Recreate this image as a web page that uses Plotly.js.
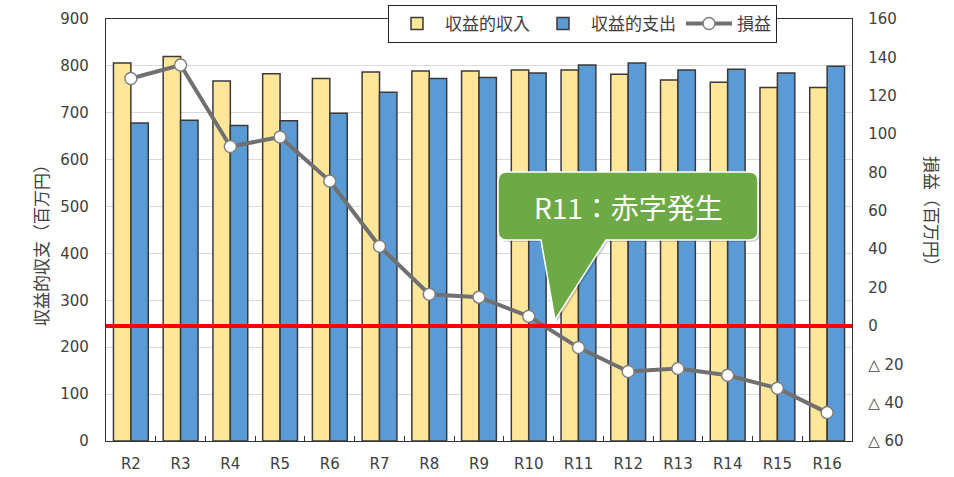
<!DOCTYPE html>
<html>
<head>
<meta charset="utf-8">
<script src="https://cdn.plot.ly/plotly-3.0.1.min.js"></script>
<style>html,body{margin:0;padding:0;background:#fff;}#chart{width:954px;height:477px;}</style>
</head>
<body>
<div id="chart"></div>
<script>
const categories = ["R2","R3","R4","R5","R6","R7","R8","R9","R10","R11","R12","R13","R14","R15","R16"];
const revenue = [806, 820, 768, 783, 773, 787, 789, 789, 791, 791, 782, 770, 765, 754, 754];
const expense = [678, 684, 673, 683, 699, 744, 773, 775, 785, 802, 806, 791, 793, 785, 799];
const profit  = [129, 136, 93.5, 98.5, 75.5, 41.5, 16.5, 15, 5, -11.3, -23.8, -22.2, -25.7, -32.5, -45.2];
const leftTicks = [0,100,200,300,400,500,600,700,800,900];
const rightTicks = [-60,-40,-20,0,20,40,60,80,100,120,140,160];
const rightTickText = rightTicks.map(v => v < 0 ? "△ " + (-v) : String(v));
const seriesNames = ["収益的収入","収益的支出","損益"];
const calloutText = "R11：赤字発生";

const W = 954, H = 477, L = 106, R = 102, T = 19, B = 36;
const pw = W - L - R, ph = H - T - B;
const px = x => (x - L) / pw;
const py = y => (H - B - y) / ph;

const tickFont = {family: "DejaVu Sans, Noto Sans, sans-serif", size: 15, color: "#404040"};
const cjk = "Noto Sans CJK JP, sans-serif";

const traces = [
  {type: "bar", name: seriesNames[0], x: categories, y: revenue, yaxis: "y",
   marker: {color: "#FFE699", line: {color: "#3a3a3a", width: 1.5}}},
  {type: "bar", name: seriesNames[1], x: categories, y: expense, yaxis: "y",
   marker: {color: "#5B9BD5", line: {color: "#3a3a3a", width: 1.5}}},
  {type: "scatter", mode: "lines+markers", name: seriesNames[2], x: categories, y: profit, yaxis: "y2",
   line: {color: "#707070", width: 4},
   marker: {symbol: "circle", size: 12, color: "#ffffff", line: {color: "#808080", width: 1.5}}}
];

function rr(x0, y0, x1, y1, r, bx0, bx1, tipx, tipy) {
  const P = (x, y) => px(x).toFixed(5) + "," + py(y).toFixed(5);
  return "M" + P(x0 + r, y0) + " L" + P(x1 - r, y0) + " Q" + P(x1, y0) + " " + P(x1, y0 + r) +
    " L" + P(x1, y1 - r) + " Q" + P(x1, y1) + " " + P(x1 - r, y1) +
    " L" + P(bx1, y1) + " L" + P(tipx, tipy) + " L" + P(bx0, y1) +
    " L" + P(x0 + r, y1) + " Q" + P(x0, y1) + " " + P(x0, y1 - r) +
    " L" + P(x0, y0 + r) + " Q" + P(x0, y0) + " " + P(x0 + r, y0) + " Z";
}

const layout = {
  width: W, height: H,
  margin: {l: L, r: R, t: T, b: B, autoexpand: false},
  paper_bgcolor: "#ffffff", plot_bgcolor: "#ffffff",
  barmode: "group", bargap: 0.3, bargroupgap: 0,
  showlegend: true,
  legend: {orientation: "h", x: px(388), y: py(5), xanchor: "left", yanchor: "top",
    bgcolor: "#ffffff", bordercolor: "#222222", borderwidth: 1, itemwidth: 46,
    font: {family: cjk, size: 17, color: "#404040"}, traceorder: "normal"},
  xaxis: {type: "category", range: [-0.5, categories.length - 0.5], tickfont: tickFont,
    showline: true, linecolor: "#333333", linewidth: 1.2,
    mirror: true, ticks: "inside", ticklen: 5, tickcolor: "#333333", tickson: "boundaries",
    showgrid: false, fixedrange: true, automargin: false, ticklabelstandoff: 9},
  yaxis: {range: [0, 900], tickvals: leftTicks, tickfont: tickFont, showline: true,
    linecolor: "#333333", linewidth: 1.2, gridcolor: "#d9d9d9", gridwidth: 1, zeroline: false,
    ticks: "", ticklabelstandoff: 13, automargin: false},
  yaxis2: {range: [-60, 160], overlaying: "y", side: "right", tickvals: rightTicks, ticktext: rightTickText,
    tickfont: tickFont, showline: true, linecolor: "#333333", linewidth: 1.2, showgrid: false,
    zeroline: false, ticks: "", ticklabelstandoff: 12, automargin: false},
  shapes: [
    {type: "line", xref: "paper", x0: 0, x1: 1, yref: "y2", y0: 0, y1: 0,
     line: {color: "#FF0000", width: 4}, layer: "above"},
    {type: "path", xref: "paper", yref: "paper", path: rr(500, 174, 760, 242, 9, 543, 608, 557, 322),
     fillcolor: "rgba(0,0,0,0.18)", line: {width: 0}, layer: "above"},
    {type: "path", xref: "paper", yref: "paper", path: rr(498, 172, 758, 240, 9, 541, 606, 555, 320),
     fillcolor: "#6DAA45", line: {color: "#ffffff", width: 1.5}, layer: "above"}
  ],
  annotations: [
    {xref: "paper", yref: "paper", x: px(628), y: py(207), text: calloutText, showarrow: false,
     font: {family: cjk, size: 28, color: "#ffffff"}, xanchor: "center", yanchor: "middle"},
    {xref: "paper", yref: "paper", x: px(40), y: py(241), text: "収益的収支（百万円）", showarrow: false,
     textangle: -90, font: {family: cjk, size: 17, color: "#404040"}, xanchor: "center", yanchor: "middle"},
    {xref: "paper", yref: "paper", x: px(933), y: py(215), text: "損益（百万円）", showarrow: false,
     textangle: 90, font: {family: cjk, size: 17, color: "#404040"}, xanchor: "center", yanchor: "middle"}
  ]
};

Plotly.newPlot("chart", traces, layout, {displayModeBar: false, staticPlot: true});
</script>
</body>
</html>
